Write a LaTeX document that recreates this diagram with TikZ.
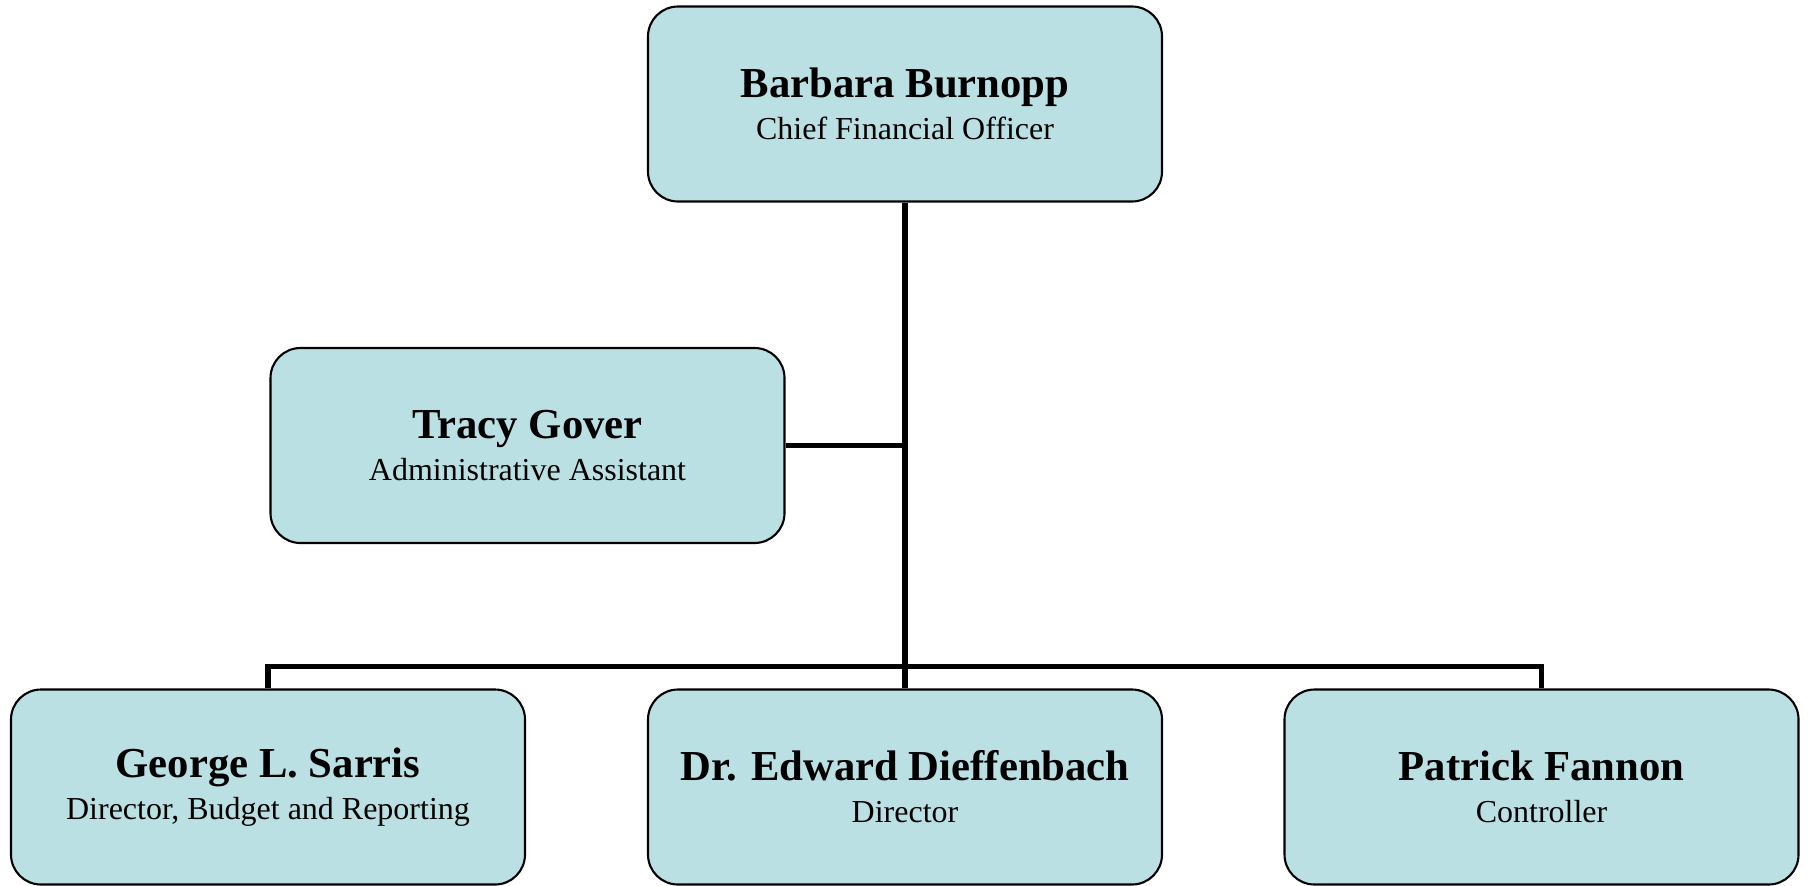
\documentclass[tikz,border=0pt]{standalone}
\usepackage{fontspec}
\setmainfont{Liberation Serif}
\usepackage{tikz}
\definecolor{boxfill}{RGB}{187,224,227}
\newcommand{\pname}[1]{{\fontsize{12.15}{13}\selectfont\bfseries #1}}

\begin{document}
\begin{tikzpicture}[align=center,
	conn/.style={line width=1.6pt},
	person/.style={rectangle,draw,fill=boxfill,line width=0.6pt,rounded corners=0.3cm,
		minimum width=5.14cm,minimum height=1.95cm,font=\fontsize{9.1}{12}\selectfont}]
\useasboundingbox (0,0) rectangle (18.11,8.85);
\node[person](cfo) at (9.05,7.81){\pname{Barbara Burnopp}\\ Chief Financial Officer};
\node[person](tracy) at (5.275,4.395){\pname{Tracy Gover}\\ Administrative Assistant};
\node[person](george) at (2.68,0.98){\pname{George L. Sarris}\\ Director, Budget and Reporting};
\node[person](edward) at (9.05,0.98){\pname{Dr. Edward Dieffenbach}\\ Director};
\node[person](patrick) at (15.415,0.98){\pname{Patrick Fannon}\\ Controller};
\draw[conn](cfo.south) to (edward.north);
\draw[conn](tracy.east) to (tracy.east -| cfo.south);
\draw[conn](george.north) -- ++(0,0.22) -| (patrick.north);
\end{tikzpicture}
\end{document}
